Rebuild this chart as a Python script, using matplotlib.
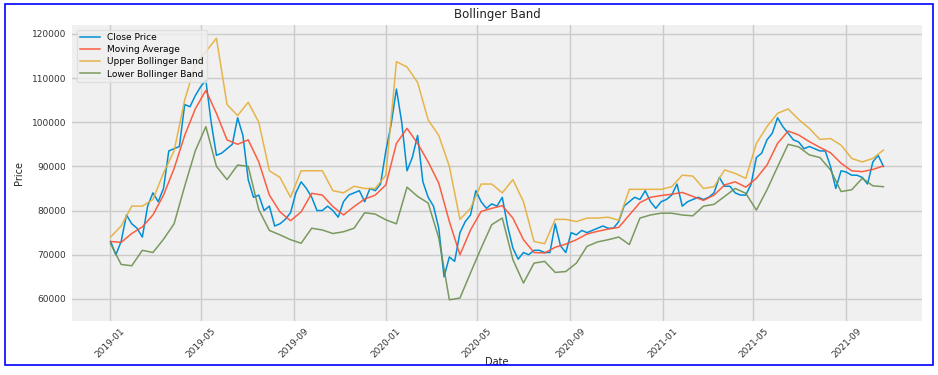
import matplotlib
matplotlib.use("Agg")
import matplotlib.pyplot as plt
import matplotlib.dates as mdates
import pandas as pd
from matplotlib.patches import Rectangle

# ---- data ----
close_start = "2019-01-02"
close_price = [
    73000, 70000, 73000, 79000, 77000, 76000, 74000, 81000, 84000, 82000,
    85000, 93500, 94000, 94500, 104000, 103500, 106000, 108000, 109500, 100000,
    92500, 93000, 94000, 95000, 101000, 97000, 87000, 83000, 83500, 80000,
    81000, 76500, 77000, 78000, 79500, 84000, 86500, 85000, 83000, 80000,
    80000, 81000, 80000, 78500, 82000, 83500, 84000, 84500, 82000, 85000,
    84500, 86000, 93500, 99500, 107500, 100000, 89000, 92000, 97000, 86500,
    83000, 81000, 76000, 65000, 69500, 68500, 75000, 77500, 79000, 84500,
    82000, 80500, 81500, 81000, 83000, 76500, 71500, 69000, 70500, 70000,
    71000, 71000, 70500, 70500, 77000, 72000, 70500, 75000, 74500, 75500,
    75000, 75500, 76000, 76500, 76000, 76000, 77500, 81000, 82000, 83000,
    82500, 84500, 82000, 80500, 82000, 82500, 83500, 86000, 81000, 82000,
    82500, 83000, 82500, 83000, 84000, 87500, 85500, 85500, 84000, 83500,
    83500, 86000, 92000, 93000, 96000, 97500, 101000, 99000, 97500, 96000,
    95500, 94000, 94500, 94000, 93500, 93500, 90000, 85000, 89000, 88700,
    88000, 88000, 87500, 86000, 91000, 92500, 90000,
]
moving_average = [
    73000, 72800, 74800, 76300, 79000, 83500, 89500, 97000, 103000, 107200,
    102000, 96000, 95000, 96000, 91000, 83500, 79700, 77700, 79700, 83900,
    83500, 80900, 79000, 80900, 82600, 83500, 85800, 95200, 98600, 95200,
    91000, 86200, 77500, 70000, 75600, 79800, 80500, 81100, 78300, 73400,
    70500, 70400, 71700, 72400, 73400, 74700, 75300, 75800, 76200, 79000,
    81800, 83000, 83400, 83700, 84100, 83200, 82300, 83500, 85800, 86500,
    85300, 87300, 90300, 95200, 98000, 97100, 95600, 94300, 93100, 90700,
    89000, 88800, 89300, 90100,
]
upper_band = [
    74000, 76500, 81000, 81000, 82500, 88500, 93500, 105000, 113000, 116000,
    119000, 104000, 101500, 104500, 100000, 89000, 87500, 83000, 89000, 89000,
    89000, 84500, 84000, 85500, 85000, 85000, 88000, 113700, 112500, 109000,
    100500, 97000, 90000, 78000, 80500, 86000, 86000, 84000, 87000, 82000,
    73000, 72500, 78000, 78000, 77500, 78300, 78300, 78500, 77800, 84800,
    84800, 84800, 84800, 85400, 88000, 87800, 85000, 85400, 89200, 88400,
    87300, 95200, 99000, 102000, 103000, 100600, 98600, 96100, 96300, 94800,
    91800, 91000, 91800, 93700,
]
lower_band = [
    72500, 67800, 67500, 71000, 70500, 73500, 77000, 85500, 93500, 99000,
    90000, 87000, 90300, 90000, 80200, 75500, 74500, 73400, 72600, 76000,
    75600, 74800, 75200, 76000, 79500, 79200, 77900, 77000, 85300, 83200,
    81700, 73800, 59800, 60200, 65900, 71500, 76800, 78300, 68900, 63600,
    68100, 68500, 66000, 66200, 68100, 71900, 72900, 73400, 74000, 72300,
    78300, 79000, 79400, 79400, 79000, 78800, 81000, 81400, 83200, 85000,
    83900, 80100, 84700, 89900, 95000, 94400, 92600, 92000, 89200, 84300,
    84700, 87300, 85600, 85400,
]
series_labels = ["Close Price", "Moving Average", "Upper Bollinger Band", "Lower Bollinger Band"]

close_dates = pd.date_range(close_start, periods=len(close_price), freq="7D")
band_dates = pd.date_range(close_start, periods=len(upper_band), freq="14D")

# ---- figure ----
W, H = 938, 375
fig = plt.figure(figsize=(W / 100, H / 100), dpi=100, facecolor="white")
ax = fig.add_axes([72 / W, 1 - 321 / H, (922 - 72) / W, (321 - 25) / H])
ax.set_facecolor("#f0f0f0")
for s in ax.spines.values():
    s.set_visible(False)
ax.grid(True, color="#cbcbcb", linewidth=1.0)
ax.set_axisbelow(True)

lw = 1.1
ax.plot(close_dates, close_price, color="#008fd5", lw=lw, label=series_labels[0])
ax.plot(band_dates, moving_average, color="#fc4f30", lw=lw, alpha=0.9, label=series_labels[1])
ax.plot(band_dates, upper_band, color="#e5ae38", lw=lw, alpha=0.9, label=series_labels[2])
ax.plot(band_dates, lower_band, color="#6d904f", lw=lw, alpha=0.9, label=series_labels[3])

ax.set_xlim(pd.Timestamp("2018-11-12"), pd.Timestamp("2021-12-10"))
ax.set_ylim(55000, 122000)

ax.xaxis.set_major_locator(mdates.MonthLocator(bymonth=[1, 5, 9]))
ax.xaxis.set_major_formatter(mdates.DateFormatter("%Y-%m"))
ax.tick_params(axis="both", length=0, labelsize=6.5, colors="#333333", pad=4)
plt.setp(ax.get_xticklabels(), rotation=45)

ax.set_title("Bollinger Band", fontsize=8.5, color="#222222", pad=5)
ax.set_ylabel("Price", fontsize=7, color="#222222", labelpad=6)
ax.set_xlabel("Date", fontsize=7, color="#222222", labelpad=-2)

leg = ax.legend(loc="upper left", fontsize=6.5, frameon=True, fancybox=True,
                borderpad=0.4, labelspacing=0.35, handlelength=2.2,
                bbox_to_anchor=(0.0, 1.0))
leg.get_frame().set_facecolor("#f0f0f0")
leg.get_frame().set_edgecolor("#dddddd")
leg.get_frame().set_alpha(0.8)

# white mask below the blue frame and the frame itself
fig.patches.append(Rectangle((0, 0), 1, 10 / H, transform=fig.transFigure,
                             facecolor="white", edgecolor="none", zorder=10))
fig.patches.append(Rectangle((0, 0), 4 / W, 1, transform=fig.transFigure,
                             facecolor="white", edgecolor="none", zorder=10))
fig.patches.append(Rectangle((4.5 / W, 10 / H), (933 - 4.5) / W, (371 - 10) / H,
                             transform=fig.transFigure, facecolor="none",
                             edgecolor="#0000ff", linewidth=1.2, zorder=11))

fig.savefig("out.png", dpi=100, facecolor="white")
